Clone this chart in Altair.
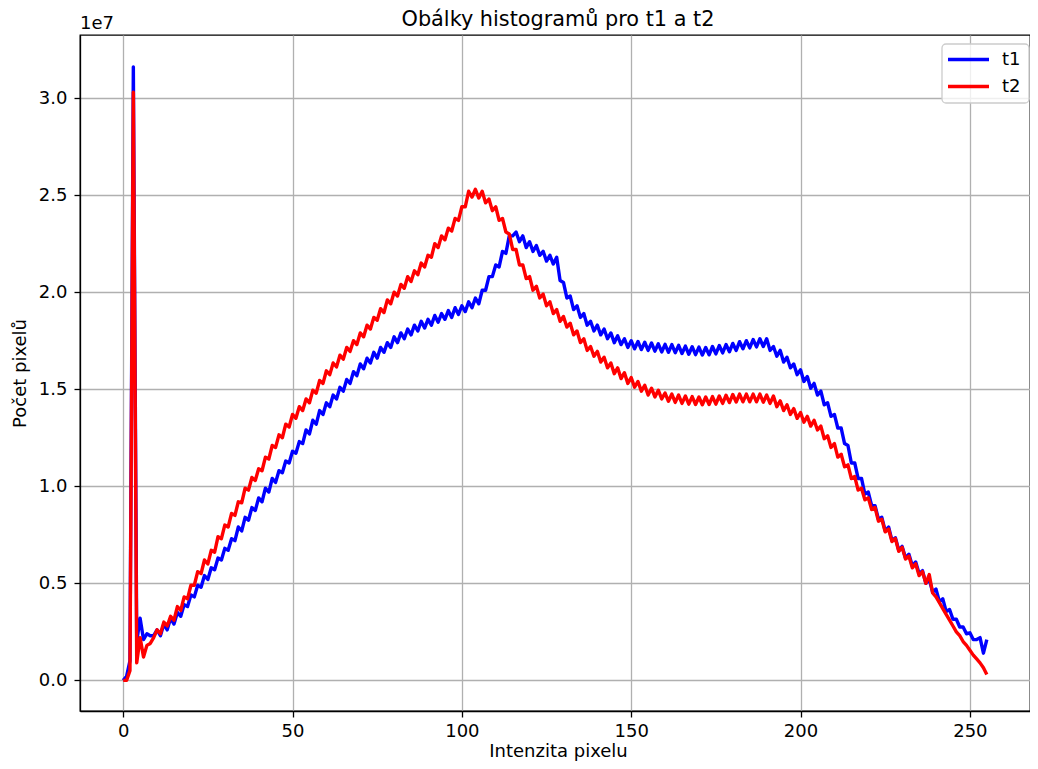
import altair as alt
import pandas as pd

intensity = list(range(256))

t1 = [
    0.00, 0.02, 0.10, 3.16, 0.20, 0.32, 0.21, 0.24, 0.23, 0.23,
    0.26, 0.23, 0.29, 0.26, 0.32, 0.29, 0.35, 0.33, 0.39, 0.38,
    0.44, 0.43, 0.49, 0.48, 0.54, 0.52, 0.58, 0.57, 0.63, 0.62,
    0.68, 0.67, 0.73, 0.72, 0.79, 0.77, 0.84, 0.825, 0.89, 0.875,
    0.94, 0.92, 0.99, 0.97, 1.04, 1.02, 1.08, 1.07, 1.13, 1.12,
    1.18, 1.17, 1.23, 1.22, 1.29, 1.27, 1.34, 1.32, 1.39, 1.37,
    1.43, 1.41, 1.47, 1.45, 1.51, 1.49, 1.55, 1.53, 1.59, 1.57,
    1.63, 1.605, 1.66, 1.635, 1.69, 1.66, 1.715, 1.69, 1.74, 1.715,
    1.77, 1.74, 1.79, 1.76, 1.81, 1.78, 1.83, 1.80, 1.85, 1.815,
    1.86, 1.83, 1.88, 1.845, 1.89, 1.86, 1.905, 1.87, 1.92, 1.885,
    1.93, 1.90, 1.95, 1.92, 1.97, 1.94, 2.01, 2.01, 2.08, 2.08,
    2.14, 2.13, 2.21, 2.20, 2.29, 2.29, 2.31, 2.26, 2.29, 2.23,
    2.26, 2.21, 2.24, 2.19, 2.21, 2.16, 2.19, 2.145, 2.18, 2.06,
    2.05, 1.97, 1.98, 1.91, 1.93, 1.87, 1.89, 1.83, 1.85, 1.80,
    1.83, 1.78, 1.81, 1.76, 1.79, 1.74, 1.775, 1.73, 1.76, 1.715,
    1.75, 1.708, 1.746, 1.704, 1.742, 1.70, 1.738, 1.696, 1.734, 1.692,
    1.731, 1.69, 1.73, 1.688, 1.726, 1.684, 1.722, 1.68, 1.719, 1.678,
    1.717, 1.676, 1.715, 1.677, 1.72, 1.682, 1.725, 1.687, 1.73, 1.693,
    1.736, 1.70, 1.745, 1.708, 1.75, 1.713, 1.756, 1.718, 1.76, 1.72,
    1.76, 1.70, 1.72, 1.67, 1.70, 1.64, 1.665, 1.61, 1.63, 1.575,
    1.60, 1.54, 1.565, 1.505, 1.53, 1.47, 1.49, 1.42, 1.43, 1.36,
    1.37, 1.30, 1.30, 1.22, 1.21, 1.12, 1.12, 1.04, 1.04, 0.96,
    0.97, 0.90, 0.90, 0.83, 0.84, 0.77, 0.79, 0.72, 0.735, 0.67,
    0.69, 0.63, 0.65, 0.59, 0.61, 0.55, 0.565, 0.50, 0.52, 0.455,
    0.47, 0.405, 0.42, 0.355, 0.365, 0.315, 0.315, 0.275, 0.275, 0.24,
    0.245, 0.21, 0.21, 0.22, 0.14, 0.21,
]

t2 = [
    0.00, 0.00, 0.05, 3.03, 0.09, 0.22, 0.12, 0.18, 0.19, 0.22,
    0.26, 0.24, 0.30, 0.28, 0.33, 0.31, 0.38, 0.36, 0.43, 0.42,
    0.49, 0.49, 0.56, 0.55, 0.62, 0.60, 0.67, 0.66, 0.74, 0.73,
    0.80, 0.79, 0.86, 0.85, 0.92, 0.915, 0.99, 0.98, 1.045, 1.03,
    1.09, 1.08, 1.15, 1.14, 1.21, 1.20, 1.265, 1.25, 1.32, 1.305,
    1.37, 1.35, 1.41, 1.39, 1.45, 1.43, 1.495, 1.48, 1.545, 1.53,
    1.595, 1.575, 1.635, 1.615, 1.675, 1.655, 1.715, 1.695, 1.75, 1.73,
    1.79, 1.77, 1.83, 1.81, 1.87, 1.855, 1.915, 1.895, 1.96, 1.94,
    2.00, 1.98, 2.04, 2.02, 2.08, 2.055, 2.11, 2.09, 2.15, 2.13,
    2.19, 2.18, 2.25, 2.23, 2.29, 2.27, 2.33, 2.315, 2.38, 2.37,
    2.44, 2.44, 2.52, 2.49, 2.53, 2.485, 2.52, 2.46, 2.48, 2.42,
    2.44, 2.37, 2.38, 2.31, 2.30, 2.22, 2.22, 2.14, 2.14, 2.07,
    2.08, 2.01, 2.03, 1.97, 1.99, 1.93, 1.95, 1.89, 1.91, 1.85,
    1.875, 1.82, 1.84, 1.78, 1.80, 1.74, 1.76, 1.70, 1.72, 1.67,
    1.695, 1.64, 1.665, 1.61, 1.635, 1.58, 1.61, 1.555, 1.585, 1.53,
    1.56, 1.51, 1.54, 1.49, 1.52, 1.47, 1.505, 1.46, 1.495, 1.45,
    1.48, 1.438, 1.475, 1.432, 1.47, 1.427, 1.465, 1.423, 1.462, 1.421,
    1.46, 1.42, 1.46, 1.421, 1.462, 1.423, 1.465, 1.427, 1.469, 1.431,
    1.473, 1.434, 1.475, 1.435, 1.475, 1.435, 1.475, 1.435, 1.475, 1.433,
    1.47, 1.427, 1.465, 1.41, 1.44, 1.39, 1.42, 1.37, 1.40, 1.35,
    1.38, 1.33, 1.36, 1.31, 1.34, 1.29, 1.31, 1.245, 1.26, 1.20,
    1.22, 1.15, 1.165, 1.10, 1.11, 1.04, 1.05, 0.98, 0.99, 0.93,
    0.94, 0.88, 0.89, 0.82, 0.83, 0.765, 0.78, 0.715, 0.73, 0.665,
    0.685, 0.625, 0.64, 0.58, 0.60, 0.54, 0.56, 0.50, 0.545, 0.45,
    0.43, 0.40, 0.37, 0.34, 0.31, 0.28, 0.25, 0.23, 0.20, 0.18,
    0.155, 0.13, 0.11, 0.09, 0.065, 0.03,
]

series_names = ["t1", "t2"]
series_colors = ["#0000ff", "#ff0000"]
x_ticks = [0, 50, 100, 150, 200, 250]
y_ticks = [0.0, 0.5, 1.0, 1.5, 2.0, 2.5, 3.0]
title_text = "Obálky histogramů pro t1 a t2"
offset_text = "1e7"

df = pd.DataFrame({
    "x": intensity * 2,
    "y": t1 + t2,
    "s": ["t1"] * len(t1) + ["t2"] * len(t2),
})

FONT = "DejaVu Sans"
W, H = 950, 676
LW = 3.4

axis_common = dict(
    grid=True, gridColor="#b0b0b0", gridWidth=1.3,
    tickSize=6, tickColor="black", tickWidth=1.3,
    domainColor="black", domainWidth=1.3,
    labelFontSize=18, titleFontSize=18, labelColor="black", titleColor="black",
    titleFontWeight="normal", labelFont=FONT, titleFont=FONT,
)

lines = alt.Chart(df).mark_line(strokeWidth=LW, strokeJoin="round", clip=True).encode(
    x=alt.X("x:Q", scale=alt.Scale(domain=[-12.75, 267.75], nice=False, zero=False),
            axis=alt.Axis(values=x_ticks, title="Intenzita pixelu", format="d",
                          labelPadding=5, titleBaseline="alphabetic",
                          titleY=45, titleX=W / 2 + 3, titleAlign="center",
                          **axis_common)),
    y=alt.Y("y:Q", scale=alt.Scale(domain=[-0.158, 3.325], nice=False, zero=False),
            axis=alt.Axis(values=y_ticks, title="Počet pixelů", format=".1f",
                          labelPadding=7, titleBaseline="alphabetic",
                          titleAngle=270, titleAlign="center",
                          titleX=-55, titleY=H / 2, **axis_common)),
    color=alt.Color("s:N", scale=alt.Scale(domain=series_names, range=series_colors),
                    legend=None),
)

one = pd.DataFrame({"t": [0]})

title_mark = alt.Chart(pd.DataFrame({"t": [title_text]})).mark_text(
    align="center", baseline="alphabetic", fontSize=20.8, font=FONT, color="black"
).encode(x=alt.value(W / 2 + 3), y=alt.value(-9.5), text="t:N")

offset_label = alt.Chart(pd.DataFrame({"t": [offset_text]})).mark_text(
    align="left", baseline="alphabetic", fontSize=18, font=FONT, color="black"
).encode(x=alt.value(0), y=alt.value(-6), text="t:N")

# legend frame
box_l, box_r, box_t, box_b = W - 88, W - 1, 9, 68
legend_box = alt.Chart(one).mark_rect(
    fill="white", fillOpacity=0.8, stroke="#cccccc", strokeWidth=1.3, cornerRadius=4
).encode(x=alt.value(box_l), x2=alt.value(box_r), y=alt.value(box_t), y2=alt.value(box_b))

legend_layers = [legend_box]
row_y = [24.5, 51.5]
for name, col, ry in zip(series_names, series_colors, row_y):
    legend_layers.append(
        alt.Chart(one).mark_rule(color=col, strokeWidth=LW).encode(
            x=alt.value(box_l + 6), x2=alt.value(box_l + 47), y=alt.value(ry))
    )
    legend_layers.append(
        alt.Chart(pd.DataFrame({"t": [name]})).mark_text(
            align="left", baseline="middle", fontSize=18, font=FONT, color="black"
        ).encode(x=alt.value(box_l + 60), y=alt.value(ry), text="t:N")
    )

chart = alt.layer(lines, title_mark, offset_label, *legend_layers).properties(
    width=W, height=H,
    autosize=alt.AutoSizeParams(type="none"),
    padding={"left": 72, "top": 27, "right": 0, "bottom": 50},
).configure_view(stroke="black", strokeWidth=1.3)

chart.save("out.html", embed_options={"renderer": "svg", "actions": False})
